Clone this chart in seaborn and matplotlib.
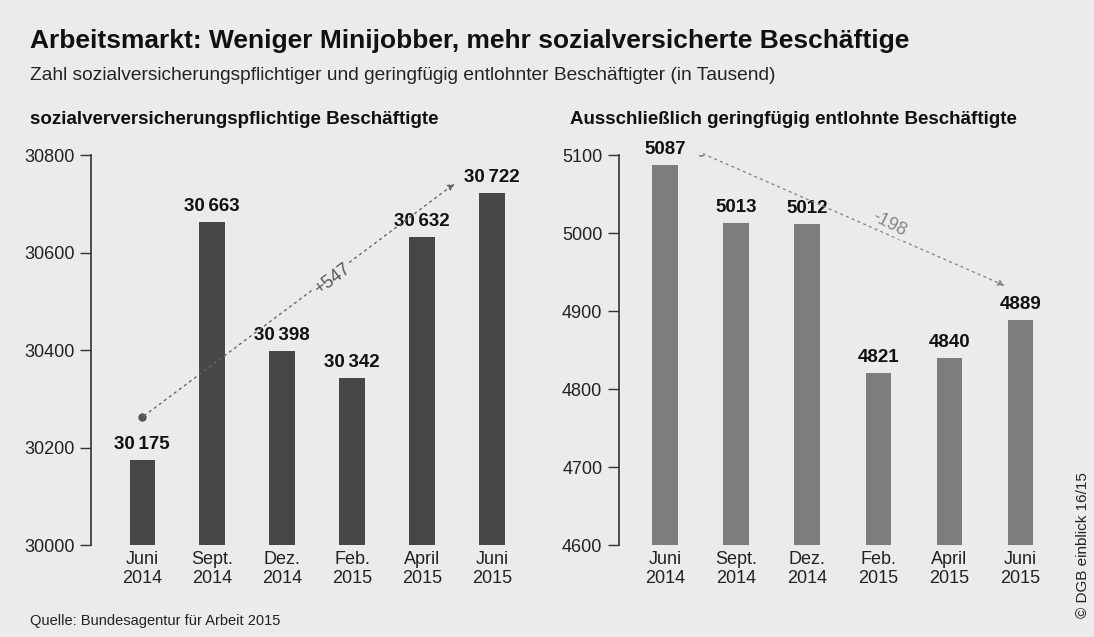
import seaborn as sns
import matplotlib.pyplot as plt
import pandas as pd

# data (in Tausend)
months = ["Juni\n2014", "Sept.\n2014", "Dez.\n2014", "Feb.\n2015", "April\n2015", "Juni\n2015"]
sozial = [30175, 30663, 30398, 30342, 30632, 30722]
mini = [5087, 5013, 5012, 4821, 4840, 4889]
sozial_ticks = [30000, 30200, 30400, 30600, 30800]
mini_ticks = [4600, 4700, 4800, 4900, 5000, 5100]

sns.set_style("white")
plt.rcParams["font.family"] = ["Liberation Sans Narrow", "Liberation Sans", "DejaVu Sans"]

bg = "#ebebeb"
fig = plt.figure(figsize=(10.94, 6.37), dpi=100, facecolor=bg)

ax1 = fig.add_axes([0.0832, 0.1444, 0.3985, 0.6122])
ax2 = fig.add_axes([0.5658, 0.1444, 0.3994, 0.6122])

df1 = pd.DataFrame({"monat": months, "wert": sozial})
df2 = pd.DataFrame({"monat": months, "wert": mini})

sns.barplot(data=df1, x="monat", y="wert", ax=ax1, color="#474747", width=0.36,
            saturation=1, linewidth=0)
sns.barplot(data=df2, x="monat", y="wert", ax=ax2, color="#7d7d7d", width=0.36,
            saturation=1, linewidth=0)


def fmt(v):
    s = str(v)
    if len(s) > 4:
        return s[:-3] + "\u2009" + s[-3:]
    return s


for ax, vals, ticks, xl in [(ax1, sozial, sozial_ticks, -0.73), (ax2, mini, mini_ticks, -0.65)]:
    ax.set_facecolor("none")
    ax.set_ylim(ticks[0], ticks[-1])
    ax.set_yticks(ticks)
    ax.set_xlim(xl, 5.5)
    ax.set_xlabel("")
    ax.set_ylabel("")
    for s in ["top", "right", "bottom"]:
        ax.spines[s].set_visible(False)
    ax.spines["left"].set_color("#333333")
    ax.spines["left"].set_linewidth(1.2)
    ax.tick_params(axis="y", direction="out", length=8, width=1, color="#333333",
                   labelsize=13, labelcolor="#222222", pad=4, left=True)
    ax.tick_params(axis="x", length=0, labelsize=13, labelcolor="#222222", pad=4)
    for i, v in enumerate(vals):
        ax.annotate(fmt(v), (i, v), xytext=(0, 5), textcoords="offset points",
                    ha="center", va="bottom", fontsize=13.5, fontweight="bold", color="#111111")

# trend arrows
ax1.plot([0], [30262], "o", color="#555555", markersize=5)
ax1.annotate("", xy=(4.5, 30745), xytext=(0, 30262),
             arrowprops=dict(arrowstyle="-|>", linestyle=(0, (1.5, 3)), color="#666666", lw=1))
ax1.text(2.72, 30545, "+547", rotation=37, ha="center", va="center", fontsize=13, color="#555555",
         bbox=dict(boxstyle="square,pad=0.05", facecolor=bg, edgecolor="none"))

ax2.plot([0.5], [5103], "o", color="#888888", markersize=4)
ax2.annotate("", xy=(4.82, 4931), xytext=(0.5, 5103),
             arrowprops=dict(arrowstyle="-|>", linestyle=(0, (1.5, 3)), color="#888888", lw=1))
ax2.text(3.15, 5012, "-198", rotation=-27, ha="center", va="center", fontsize=13, color="#888888",
         bbox=dict(boxstyle="square,pad=0.05", facecolor=bg, edgecolor="none"))

# titles
fig.text(0.027, 0.935, "Arbeitsmarkt: Weniger Minijobber, mehr sozialversicherte Beschäftige",
         fontsize=19, fontweight="bold", color="#111111", va="center")
fig.text(0.027, 0.882, "Zahl sozialversicherungspflichtiger und geringfügig entlohnter Beschäftigter (in Tausend)",
         fontsize=13.8, color="#222222", va="center")
fig.text(0.027, 0.812, "sozialverversicherungspflichtige Beschäftigte",
         fontsize=13.5, fontweight="bold", color="#111111", va="center")
fig.text(0.521, 0.812, "Ausschließlich geringfügig entlohnte Beschäftigte",
         fontsize=13.5, fontweight="bold", color="#111111", va="center")
fig.text(0.027, 0.025, "Quelle: Bundesagentur für Arbeit 2015", fontsize=10.5, color="#222222", va="center")
fig.text(0.99, 0.145, "© DGB einblick 16/15", rotation=90, fontsize=11, color="#222222",
         ha="center", va="center")

plt.savefig("out.png", dpi=100, facecolor=bg)
